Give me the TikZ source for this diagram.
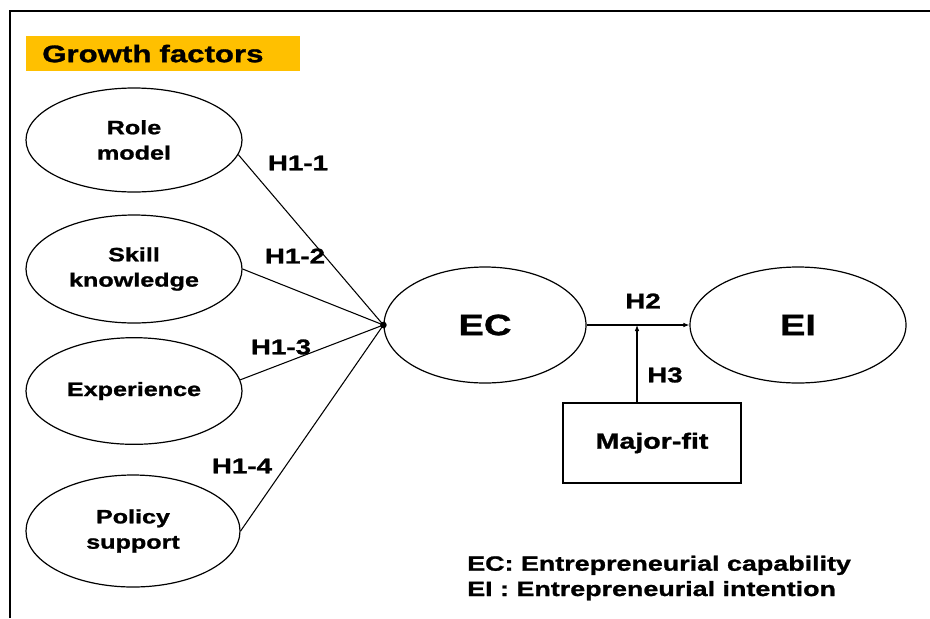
\documentclass[tikz,border=0pt]{standalone}
\usepackage{fontspec}
\setmainfont{Liberation Sans}[FakeStretch=1.3,BoldFeatures={FakeBold=1.2}]
\usetikzlibrary{shapes.geometric,arrows.meta}
\definecolor{banner}{RGB}{255,192,0}
\begin{document}
\begin{tikzpicture}[x=0.75pt,y=-0.75pt,
    factor/.style={ellipse,draw,line width=0.9pt,minimum width=162pt,minimum height=80pt,align=center,font=\fontsize{14.5}{19}\selectfont\bfseries},
    latent/.style={ellipse,draw,line width=0.9pt,minimum height=87pt,font=\fontsize{22}{26}\selectfont\bfseries},
    hyp/.style={font=\fontsize{16}{18}\selectfont\bfseries},
    link/.style={line width=0.8pt},
    arr/.style={line width=0.8pt,-{Latex[length=4.5pt,width=3.5pt]}}]
  \useasboundingbox (0,0) rectangle (930,618);
  \draw[line width=1.5pt] (10,618) -- (10,11) -- (930,11);
  \node[fill=banner,anchor=north west,inner xsep=12pt,inner ysep=0pt,text width=181.5pt,minimum height=26pt,align=left,font=\fontsize{18}{20}\selectfont\bfseries] (title) at (26,36) {Growth factors};
  % growth factors
  \node[factor,minimum height=78pt] (role) at (134,140) {Role\\model};
  \node[factor,minimum height=81pt] (skill) at (134,269) {Skill\\knowledge};
  \node[factor] (exper) at (134,391) {Experience};
  \node[factor,minimum width=160.5pt,minimum height=84pt] (policy) at (133,531) {Policy\\support};
  % constructs
  \node[latent,minimum width=151.5pt] (EC) at (485,325) {EC};
  \node[latent,minimum width=162pt] (EI) at (798,325) {EI};
  \node[draw,line width=0.9pt,minimum width=133.5pt,minimum height=60pt,font=\fontsize{16.5}{18}\selectfont\bfseries] (major) at (652,443) {Major-fit};
  \coordinate (hub) at (EC.west);
  \coordinate (join) at (637,325);
  \fill (hub) circle [radius=2.5pt];
  \draw[link] (role.-8) -- (hub);
  \draw[link] (skill.east) -- (hub);
  \draw[link] (exper.6) -- (hub);
  \draw[link] (policy.east) -- (hub);
  \draw[arr] (EC.east) -- (EI.west);
  \draw[arr] (join |- major.north) -- (join);
  % hypotheses
  \node[hyp] (h11) at (298,163) {H1-1};
  \node[hyp] (h12) at (295,256) {H1-2};
  \node[hyp] (h13) at (281,347) {H1-3};
  \node[hyp] (h14) at (242,466) {H1-4};
  \node[hyp] (h2) at (643,301) {H2};
  \node[hyp] (h3) at (665,375) {H3};
  % legend
  \node[anchor=west,align=left,inner sep=0pt,font=\fontsize{15.5}{19}\selectfont\bfseries] (legend) at (467,578) {EC: Entrepreneurial capability\\EI : Entrepreneurial intention};
\end{tikzpicture}
\end{document}
